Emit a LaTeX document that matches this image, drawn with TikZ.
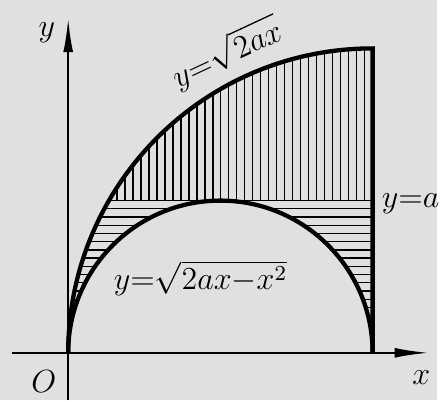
\documentclass[tikz,border=0pt]{standalone}
\usepackage{amsmath}
\usetikzlibrary{arrows.meta}

\begin{document}
\begin{tikzpicture}[x=2cm, y=2cm, >={Latex[length=4.5mm, width=1.3mm]}, font=\large,
    curve/.style={line width=1.6pt},
    axis/.style={line width=0.9pt, ->},
    hatch/.style={line width=0.5pt},
    lbl/.style={inner sep=1pt}
]

% Colores
\definecolor{paper}{RGB}{224, 224, 224}

% Fondo (fija los márgenes)
\path[fill=paper] (-0.448, -0.312) rectangle (2.422, 2.318);

% Rayado vertical: entre y=a y la curva superior
\foreach \i in {1,...,32} {
    \pgfmathsetmacro{\hx}{0.268+\i*1.732/33}
    \draw[hatch] (\hx, 1) -- (\hx, {sqrt(4-(2-\hx)^2)});
}

% Rayado horizontal: bajo y=a, fuera de la semicircunferencia
\draw[hatch] (0.268, 1) -- (2, 1);
\foreach \j in {1,...,14} {
    \pgfmathsetmacro{\hy}{1-\j*0.054}
    \pgfmathsetmacro{\xl}{2-sqrt(4-\hy*\hy)}
    \pgfmathsetmacro{\xm}{1-sqrt(1-\hy*\hy)}
    \pgfmathsetmacro{\xr}{1+sqrt(1-\hy*\hy)}
    \draw[hatch] (\xl, \hy) -- (\xm, \hy);
    \draw[hatch] (\xr, \hy) -- (2, \hy);
}

% Ejes
\coordinate (O) at (0, 0);
\coordinate (xs) at (-0.37, 0);
\coordinate (xe) at (2.37, 0);
\coordinate (ys) at (0, -0.312);
\coordinate (ye) at (0, 2.2);
\draw[axis] (xs) -- (xe);
\draw[axis] (ys) -- (ye);

% Curvas
\draw[curve] (O) arc[start angle=180, end angle=90, radius=2] -- (2, 0);
\draw[curve] (O) arc[start angle=180, end angle=0, radius=1];

% Etiquetas
\node[lbl] (ylab) at (-0.14, 2.1) {$y$};
\node[lbl] (olab) at (-0.16, -0.19) {$O$};
\node[lbl] (xlab) at (2.32, -0.16) {$x$};
\node[lbl, rotate=25] (parlab) at (1.04, 1.97) {$y{=}\sqrt{2ax}$};
\node[lbl] (cirlab) at (0.87, 0.49) {$y{=}\sqrt{2ax{-}x^2}$};
\node[lbl, anchor=west] (alab) at (2.04, 0.98) {$y{=}a$};

\end{tikzpicture}
\end{document}
